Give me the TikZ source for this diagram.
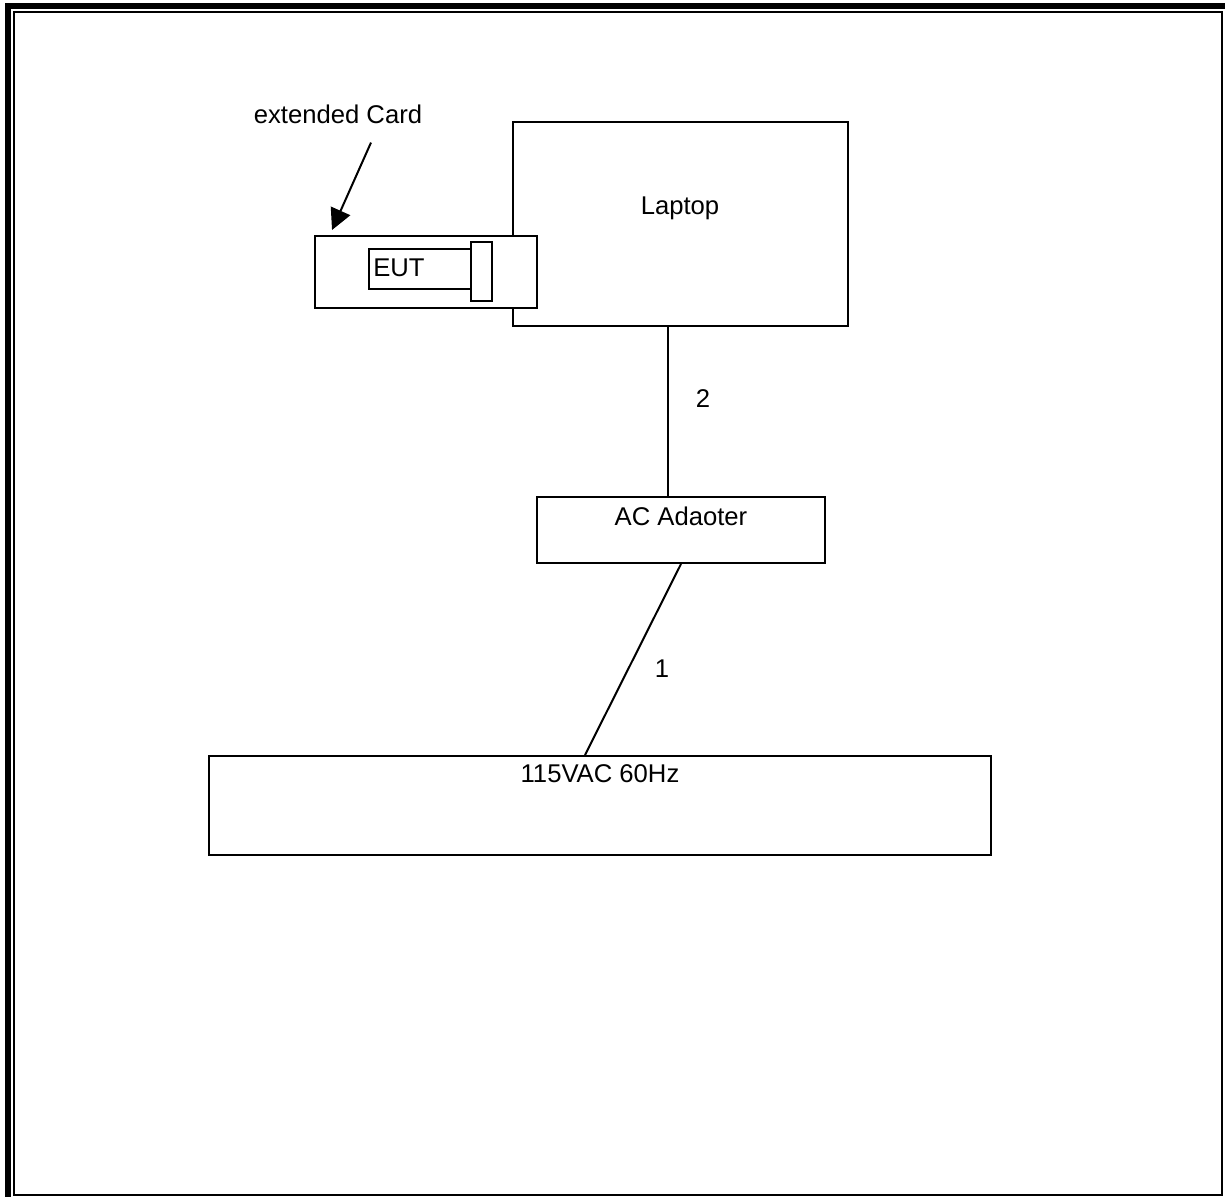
\documentclass[tikz,border=0pt]{standalone}
\usepackage{fontspec}
\setmainfont{Liberation Sans}
\usetikzlibrary{arrows.meta}
\begin{document}
\begin{tikzpicture}[x=0.02cm,y=-0.02cm,
        box/.style={draw,line width=0.04cm,inner sep=0pt,fill=white},
        txt/.style={inner sep=0pt,anchor=base,font=\fontsize{14.6}{17}\selectfont}]
        \useasboundingbox (0,0) rectangle (1225,1197);
        %cornice
        \draw[line width=0.05cm](14,12) rectangle (1222,1195);
        \draw[line width=0.12cm](8,1197)--(8,6)--(1225,6);
        %laptop e scheda
        \node[box,minimum width=6.7cm,minimum height=4.08cm](laptop) at (680.5,224){};
        \node[box,minimum width=4.44cm,minimum height=1.44cm](card) at (426,272){};
        \node[box,minimum width=2.04cm,minimum height=0.8cm](eut) at (420,269){};
        \node[box,minimum width=0.42cm,minimum height=1.18cm](plug) at (481.5,271.5){};
        \node[txt,anchor=base west](euttxt) at (373,276){EUT};
        \node[txt](laptoptxt) at (680,214){Laptop};
        \node[txt](cardtxt) at (338,123){extended Card};
        %alimentatore e rete
        \node[box,minimum width=5.76cm,minimum height=1.32cm](adapter) at (681,530){};
        \node[txt](adaptertxt) at (681,525){AC Adaoter};
        \node[box,minimum width=15.64cm,minimum height=1.98cm](mains) at (600,805.5){};
        \node[txt](mainstxt) at (600,782){115VAC 60Hz};
        %cavi
        \draw[line width=0.04cm]([xshift=-0.25cm]laptop.south)--([xshift=-0.25cm]laptop.south |- adapter.north);
        \node[txt](cable2) at (703,407){2};
        \draw[line width=0.04cm](adapter.south)--([xshift=-0.3cm]mains.north);
        \node[txt](cable1) at (662,677){1};
        %freccia scheda
        \draw[line width=0.04cm,-{Triangle[length=0.42cm,width=0.42cm]}]([shift={(0.66cm,-0.38cm)}]cardtxt.south)--([shift={(0.36cm,0.1cm)}]card.north west);
\end{tikzpicture}
\end{document}
